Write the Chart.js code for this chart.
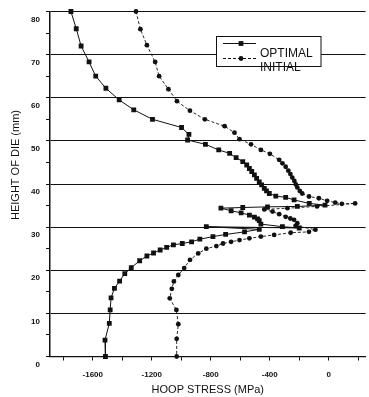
<!DOCTYPE html>
<html><head><meta charset="utf-8">
<script src="https://cdn.jsdelivr.net/npm/chart.js@4.4.1/dist/chart.umd.min.js"></script>
<style>html,body{margin:0;padding:0;background:#fff}canvas{display:block}</style>
</head><body>
<canvas id="c" width="369" height="397"></canvas>
<script>
// ---- data ----
const optimalStress = [-1748,-1712,-1679,-1625,-1580,-1511,-1421,-1322,-1195,-998,-948,-957,-836,-746,-672,-628,-583,-556,-538,-522,-504,-489,-471,-455,-437,-422,-403,-359,-292,-235,-132,-25,-213,-415,-583,-731,-662,-594,-538,-504,-482,-471,-460,-314,-200,-830,-471,-571,-699,-785,-874,-930,-993,-1053,-1099,-1143,-1188,-1233,-1282,-1339,-1383,-1418,-1453,-1476,-1482,-1488,-1517,-1514];
const optimalHeight = [80,76,72,68.3,65,62.2,59.5,57.2,55,53.1,51.5,50.2,49.2,47.9,47.1,46.1,45.2,44.4,43.6,42.9,42.1,41.3,40.5,39.8,39,38.4,37.8,37.2,36.9,36.3,35.5,35.1,34.8,34.7,34.55,34.4,33.8,33.3,32.8,32.3,31.9,31.5,30.7,30.1,29.8,30.1,29.5,28.9,28.3,27.8,27.2,26.6,26.2,25.9,25.3,24.7,24,23.3,22.2,20.6,19.2,17.5,15.8,13.6,10.8,7.7,3.8,0];
const initialStress = [-1307,-1277,-1233,-1177,-1150,-1087,-1029,-941,-840,-706,-639,-605,-527,-460,-399,-336,-314,-292,-274,-260,-247,-233,-223,-213,-196,-180,-134,-67,-11,44,89,179,-79,-280,-437,-381,-336,-292,-260,-235,-213,-225,-90,-134,-258,-370,-460,-538,-605,-662,-717,-762,-830,-885,-941,-980,-1020,-1050,-1064,-1078,-1033,-1020,-1031,-1031];
const initialHeight = [80,75.9,72.2,68.3,65,62,59.2,57,55,53.4,51.9,50.4,49.2,47.9,47,45.6,44.8,44,43.1,42.3,41.5,40.7,39.9,39.2,38.4,37.8,37.1,36.7,36.1,35.7,35.4,35.5,34.8,34.4,34.1,33.6,33,32.4,32,31.7,30.9,30.3,29.4,28.9,28.7,28.2,27.8,27.4,27,26.6,26.2,25.6,25,23.9,22.4,20.5,18.9,17.4,15.7,13.5,10.8,7.5,4.1,0];
const seriesNames = ['OPTIMAL','INITIAL'];
const xTickValues = [-1800,-1600,-1400,-1200,-1000,-800,-600,-400,-200,0,200];
const xLabelValues = [-1600,-1200,-800,-400,0];
const yTickValues = [0,5,10,15,20,25,30,35,40,45,50,55,60,65,70,75,80];
const yLabelValues = [0,10,20,30,40,50,60,70,80];
const xTitle = 'HOOP STRESS (MPa)';
const yTitle = 'HEIGHT OF DIE (mm)';

const toPts = (xs, ys) => xs.map((x, i) => ({x: x, y: ys[i]}));
const FAM = "'Liberation Sans', Arial, Helvetica, sans-serif";
const NARROW = "'Liberation Sans Narrow', 'Liberation Sans', Arial, sans-serif";
const INK = '#111';

const extras = {
  id: 'extras',
  afterDraw(chart) {
    const ctx = chart.ctx;
    ctx.save();
    // y axis title
    ctx.translate(16, 165);
    ctx.rotate(-Math.PI / 2);
    ctx.font = '11px ' + FAM;
    ctx.fillStyle = INK;
    ctx.textAlign = 'center';
    ctx.textBaseline = 'middle';
    ctx.fillText(yTitle, 0, 0);
    ctx.restore();

    // legend box
    ctx.save();
    const bx = 216.5, by = 36.5, bw = 104.5, bh = 30;
    ctx.fillStyle = '#fff';
    ctx.fillRect(bx, by, bw, bh);
    ctx.strokeStyle = INK;
    ctx.lineWidth = 1;
    ctx.strokeRect(bx, by, bw, bh);
    // sample 1
    ctx.beginPath(); ctx.moveTo(223, 43.5); ctx.lineTo(256, 43.5); ctx.stroke();
    ctx.fillStyle = INK;
    ctx.fillRect(241 - 2.4, 43.5 - 2.4, 4.8, 4.8);
    // sample 2
    ctx.setLineDash([3, 2]);
    ctx.beginPath(); ctx.moveTo(223, 58.5); ctx.lineTo(256, 58.5); ctx.stroke();
    ctx.setLineDash([]);
    ctx.beginPath(); ctx.arc(241, 58.5, 2.4, 0, Math.PI * 2); ctx.fill();
    ctx.font = '12px ' + FAM;
    ctx.textAlign = 'left';
    ctx.textBaseline = 'middle';
    ctx.fillText(seriesNames[0], 260, 53.5);
    ctx.fillText(seriesNames[1], 260, 67.5);
    ctx.restore();
  }
};

new Chart(document.getElementById('c'), {
  type: 'scatter',
  data: {
    datasets: [
      {label: seriesNames[0], data: toPts(optimalStress, optimalHeight), showLine: true,
       borderColor: INK, backgroundColor: INK, borderWidth: 1, pointStyle: 'rect',
       pointRadius: 3.4, pointBorderWidth: 0, pointHoverRadius: 3.4, clip: 8},
      {label: seriesNames[1], data: toPts(initialStress, initialHeight), showLine: true,
       borderColor: INK, backgroundColor: INK, borderWidth: 0.9, borderDash: [3, 2], pointStyle: 'circle',
       pointRadius: 2.4, pointBorderWidth: 0, pointHoverRadius: 2.4, clip: 8}
    ]
  },
  options: {
    responsive: false, animation: false, devicePixelRatio: 1,
    layout: {padding: {top: 11.5, left: 0, right: 0, bottom: 0}},
    plugins: {legend: {display: false}, tooltip: {enabled: false}},
    scales: {
      x: {
        type: 'linear', min: -1890, max: 250,
        afterBuildTicks: s => { s.ticks = xTickValues.map(v => ({value: v})); },
        afterFit: s => { s.height = 40.5; },
        ticks: {callback: v => xLabelValues.includes(v) ? String(v) : '', autoSkip: false, maxRotation: 0,
                font: {family: NARROW, size: 8, weight: 'bold'}, color: INK, padding: 9},
        grid: {drawOnChartArea: false, drawTicks: true, tickLength: 4, color: INK},
        border: {color: INK, width: 1.2},
        title: {display: true, text: xTitle, font: {family: FAM, size: 11}, color: INK, padding: {top: 0, bottom: 0.5}}
      },
      y: {
        min: 0, max: 80,
        afterBuildTicks: s => { s.ticks = yTickValues.map(v => ({value: v})); },
        afterFit: s => { s.width = 50; },
        ticks: {callback: v => yLabelValues.includes(v) ? String(v) : '', autoSkip: false,
                font: {family: NARROW, size: 8, weight: 'bold'}, color: INK, padding: 6, labelOffset: 8},
        grid: {color: c => (c.tick && yLabelValues.includes(c.tick.value)) ? INK : 'rgba(0,0,0,0)',
               tickColor: INK, tickLength: 4, lineWidth: 1},
        border: {color: INK, width: 1.5}
      }
    }
  },
  plugins: [extras]
});
</script>
</body></html>
